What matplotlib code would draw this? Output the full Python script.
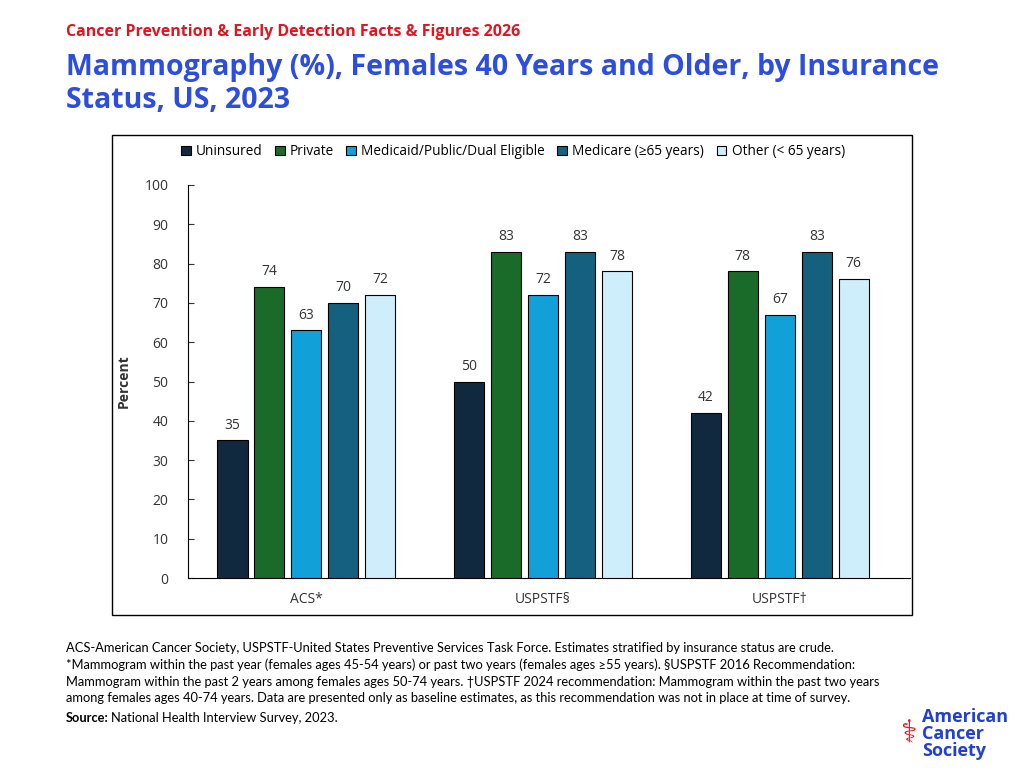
import matplotlib.pyplot as plt
import numpy as np
from matplotlib.patches import Rectangle

# ── data ──────────────────────────────────────────────────────────────────────
groups = ["ACS*", "USPSTF§", "USPSTF†"]
series = ["Uninsured", "Private", "Medicaid/Public/Dual Eligible",
          "Medicare (≥65 years)", "Other (< 65 years)"]
values = {
    "Uninsured":                    [35, 50, 42],
    "Private":                      [74, 83, 78],
    "Medicaid/Public/Dual Eligible": [63, 72, 67],
    "Medicare (≥65 years)":         [70, 83, 83],
    "Other (< 65 years)":           [72, 78, 76],
}
colors = ["#10293f", "#1a6b2a", "#12a0d8", "#15607f", "#cdeefa"]
yticks = [0, 10, 20, 30, 40, 50, 60, 70, 80, 90, 100]

# ── figure ────────────────────────────────────────────────────────────────────
fig = plt.figure(figsize=(10.24, 7.68), dpi=100)
W, H = 1024, 768

fig.text(66 / W, 1 - 32 / H, "Cancer Prevention & Early Detection Facts & Figures 2026",
         color="#e0161f", fontsize=11.5, fontweight="bold", va="center", family="Open Sans")
fig.text(66 / W, 1 - 84 / H, "Mammography (%), Females 40 Years and Older, by Insurance\nStatus, US, 2023",
         color="#2b4de0", fontsize=20.5, fontweight="bold", va="center", linespacing=1.2,
         family="Open Sans")

# chart frame
fig.patches.append(Rectangle((112 / W, 1 - 615 / H), 800 / W, 480 / H,
                             transform=fig.transFigure, fill=False,
                             edgecolor="black", linewidth=1))

ax = fig.add_axes([188 / W, 1 - 578 / H, 722 / W, 393 / H])
x = np.arange(len(groups))
width = 0.127
step = 0.156
offsets = (np.arange(len(series)) - 2) * step
for i, s in enumerate(series):
    bars = ax.bar(x + offsets[i], values[s], width=width, color=colors[i],
                  edgecolor="black", linewidth=0.8, label=s, zorder=3)
    for b, v in zip(bars, values[s]):
        ax.text(b.get_x() + b.get_width() / 2, v + 2, f"{v}", ha="center",
                va="bottom", fontsize=10, color="#333333", family="Open Sans")

ax.set_xlim(-0.5, 2.55)
ax.set_ylim(0, 100)
ax.set_yticks(yticks)
ax.set_xticks(x)
ax.set_xticklabels(groups)
ax.tick_params(axis="x", length=0, pad=10, labelsize=10, colors="#333333")
ax.tick_params(axis="y", direction="in", length=4, pad=14, labelsize=10, colors="#333333")
for t in ax.get_xticklabels() + ax.get_yticklabels():
    t.set_family("Open Sans")
ax.spines[["top", "right"]].set_visible(False)
ax.set_ylabel("Percent", fontsize=10, fontweight="bold", color="#333333", labelpad=10,
              family="Open Sans")

ax.legend(loc="upper center", bbox_to_anchor=(0.45, 1.135), ncol=5, frameon=False,
          handlelength=0.7, handleheight=0.7, columnspacing=0.9,
          handletextpad=0.4, prop={"family": "Open Sans", "size": 9.8})

# footnote
foot = ("ACS-American Cancer Society, USPSTF-United States Preventive Services Task Force. Estimates stratified by insurance status are crude.\n"
        "*Mammogram within the past year (females ages 45-54 years) or past two years (females ages ≥55 years). §USPSTF 2016 Recommendation:\n"
        "Mammogram within the past 2 years among females ages 50-74 years. †USPSTF 2024 recommendation: Mammogram within the past two years\n"
        "among females ages 40-74 years. Data are presented only as baseline estimates, as this recommendation was not in place at time of survey.")
fig.text(66 / W, 1 - 642 / H, foot, fontsize=9.3, va="top", linespacing=1.45,
         family=["Lato", "DejaVu Sans"])
fig.text(66 / W, 1 - 718 / H, "Source:", fontsize=9.3, va="center", fontweight="bold", family="Lato")
fig.text(111 / W, 1 - 718 / H, "National Health Interview Survey, 2023.", fontsize=9.3,
         va="center", family="Lato")

# logo
fig.text(922 / W, 1 - 734 / H, "American\nCancer\nSociety", color="#1f3fd6", fontsize=13,
         fontweight="bold", va="center", linespacing=0.95, family="Open Sans")
fig.text(908 / W, 1 - 734 / H, "⚕", color="#e0161f", fontsize=22, ha="center", va="center",
         family="DejaVu Sans")

fig.savefig("out.png", dpi=100)
